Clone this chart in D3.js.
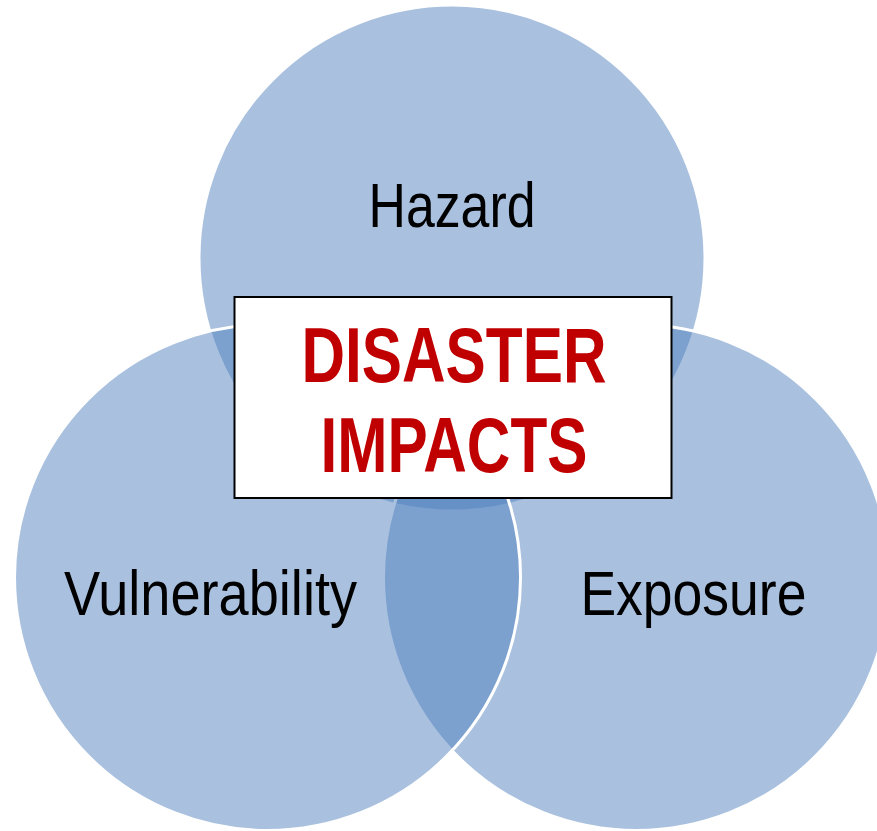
<!DOCTYPE html>
<html>
<head>
<meta charset="utf-8">
<script src="https://d3js.org/d3.v7.min.js"></script>
<style>
  body { margin: 0; background: #fff; }
  svg { display: block; }
</style>
</head>
<body>
<div class="diagram"></div>
<script>
// sets, in drawing order (each one sits on top of the one before)
var sets = ["Hazard", "Exposure", "Vulnerability"];
var setAngles = [-90, 30, 150];          // degrees, around the middle
var title = ["DISASTER", "IMPACTS"];

var w = 877, h = 831;
var cx0 = 452, cy0 = 471;   // middle of the three circles
var spread = 213;           // distance from middle to each circle centre
var r = 253;

var toRad = d3.scaleLinear().domain([0, 180]).range([0, Math.PI]);

var svg = d3.select("div.diagram").append("svg")
    .attr("width", w).attr("height", h);

var nodes = sets.map(function(name, i) {
    var a = toRad(setAngles[i]);
    return { name: name, a: a,
             x: cx0 + spread * Math.cos(a),
             y: cy0 + spread * Math.sin(a) };
});

// circles
svg.selectAll("circle.set")
    .data(nodes)
    .enter()
    .append("circle")
    .attr("class", "set")
    .attr("cx", function(d) { return d.x; })
    .attr("cy", function(d) { return d.y; })
    .attr("r", r)
    .attr("fill", "#4F81BD")
    .attr("fill-opacity", 0.49)
    .attr("stroke", "#fff")
    .attr("stroke-width", 3);

// labels
var labelWidths = { "Hazard": 167, "Exposure": 226, "Vulnerability": 293 };
svg.selectAll("text.label")
    .data(nodes)
    .enter()
    .append("text")
    .attr("class", "label")
    .attr("text-anchor", "middle")
    .attr("x", function(d) { return d.x + 0.26 * r * Math.cos(d.a); })
    .attr("y", function(d) {
        var s = Math.sin(d.a);
        return d.y + s * (s < 0 ? 0.21 : 0.12) * r + 22;
    })
    .attr("font-family", "'Liberation Sans Narrow', 'Arial Narrow', 'Liberation Sans', Arial, sans-serif")
    .attr("font-size", "63px")
    .attr("fill", "#000")
    .attr("textLength", function(d) { return labelWidths[d.name]; })
    .attr("lengthAdjust", "spacingAndGlyphs")
    .text(function(d) { return d.name; });

// middle box
var bw = 437, bh = 201;
var bx = 453 - bw / 2, by = 297;
svg.append("rect")
    .attr("x", bx).attr("y", by)
    .attr("width", bw).attr("height", bh)
    .attr("fill", "#fff")
    .attr("stroke", "#000")
    .attr("stroke-width", 2);

var titleWidths = [305, 267];
svg.selectAll("text.title")
    .data(title)
    .enter()
    .append("text")
    .attr("class", "title")
    .attr("text-anchor", "middle")
    .attr("x", 454)
    .attr("y", function(d, i) { return 382 + i * 90; })
    .attr("font-family", "'Liberation Sans Narrow', 'Arial Narrow', 'Liberation Sans', Arial, sans-serif")
    .attr("font-weight", "bold")
    .attr("font-size", "77px")
    .attr("fill", "#C00000")
    .attr("textLength", function(d, i) { return titleWidths[i]; })
    .attr("lengthAdjust", "spacingAndGlyphs")
    .text(function(d) { return d; });
</script>
</body>
</html>
